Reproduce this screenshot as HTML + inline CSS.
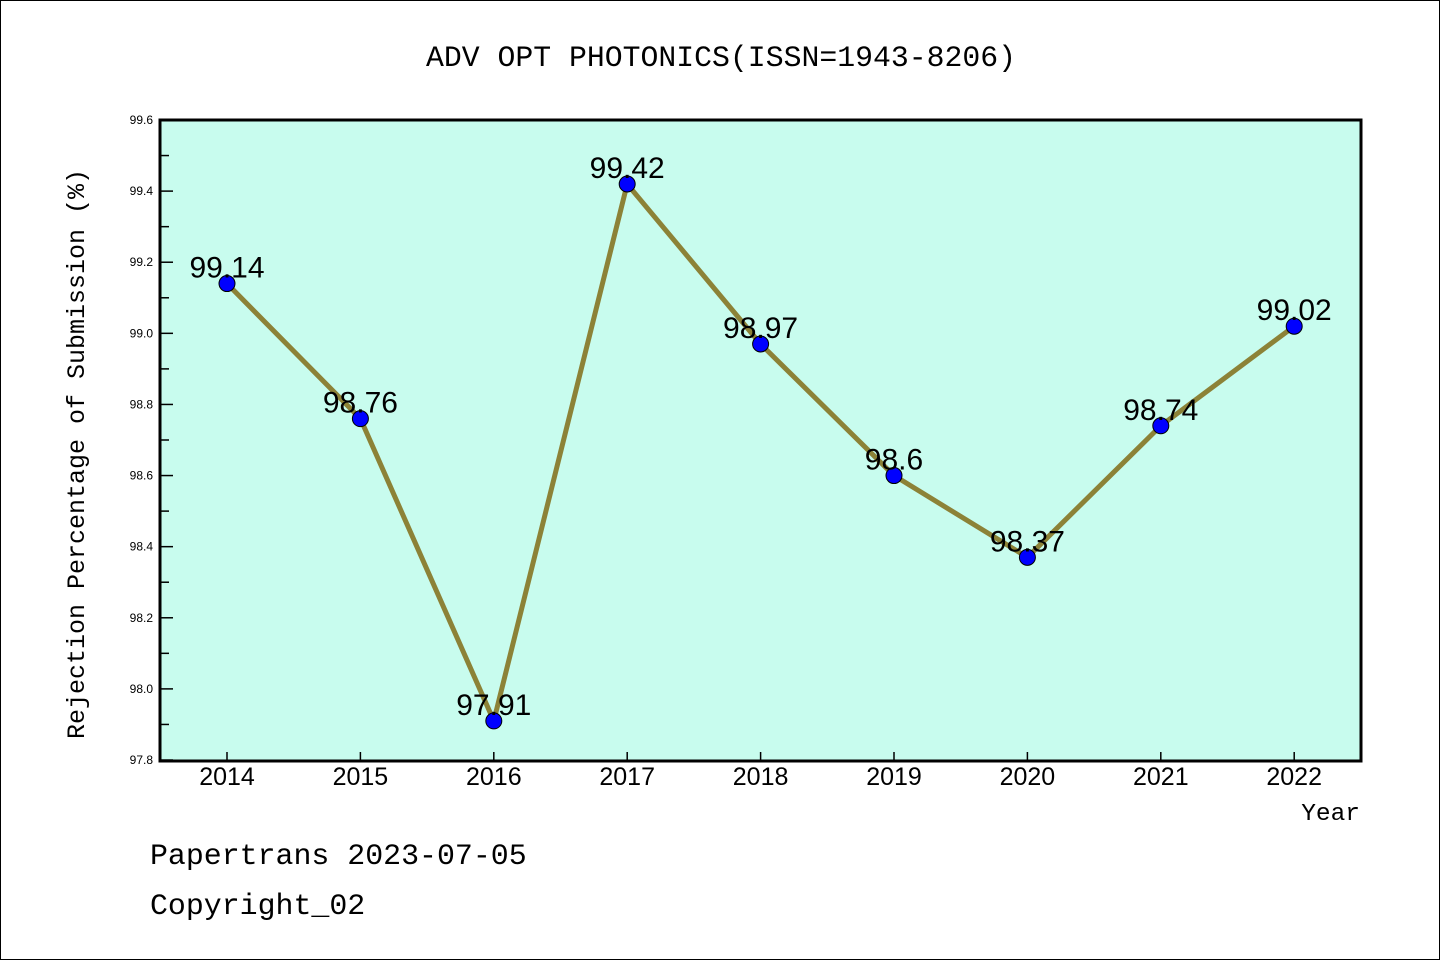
<!DOCTYPE html>
<html><head><meta charset="utf-8"><style>
html,body{margin:0;padding:0;background:#fff;}
svg{display:block;}
text{font-family:"Liberation Sans","WenQuanYi Zen Hei",sans-serif;}
.mono{font-family:"Liberation Mono","WenQuanYi Zen Hei",monospace;}
</style></head><body>
<svg id="chart" width="1440" height="960" xmlns="http://www.w3.org/2000/svg">
<rect x="0.5" y="0.5" width="1439" height="959" fill="#fff" stroke="#000" stroke-width="1"/>
<text class="mono" x="721" y="66" font-size="29.8" text-anchor="middle">ADV OPT PHOTONICS(ISSN=1943-8206)</text>
<rect x="160" y="120" width="1201" height="641" fill="#c8fcee"/>
<g id="yaxis"></g>
<g id="xaxis"></g>
<g id="series"></g>
<rect x="160" y="120" width="1201" height="641" fill="none" stroke="#000" stroke-width="3"/>
<text class="mono" x="84" y="454" font-size="25" text-anchor="middle" transform="rotate(-90 84 454)">Rejection Percentage of Submission (%)</text>
<text class="mono" x="1360" y="820" font-size="24.5" text-anchor="end">Year</text>
<text class="mono" x="150" y="864" font-size="29.9">Papertrans 2023-07-05</text>
<text class="mono" x="150" y="914" font-size="29.9">Copyright_02</text>
</svg>
<script>
const years = ["2014","2015","2016","2017","2018","2019","2020","2021","2022"];
const values = [99.14,98.76,97.91,99.42,98.97,98.6,98.37,98.74,99.02];
const valueLabels = ["99.14","98.76","97.91","99.42","98.97","98.6","98.37","98.74","99.02"];
const yTicks = ["97.8","98.0","98.2","98.4","98.6","98.8","99.0","99.2","99.4","99.6"];
const yMin = 97.8, yMax = 99.6;
const NS = "http://www.w3.org/2000/svg";
function yScale(v){ return 760 - (v - yMin) / (yMax - yMin) * 640; }
function xScale(i){ return 227 + i * 133.4; }
function mk(tag, attrs, parent){ const e = document.createElementNS(NS, tag); for (const k in attrs) e.setAttribute(k, attrs[k]); parent.appendChild(e); return e; }
const ya = document.getElementById('yaxis');
yTicks.forEach(t => {
  const v = parseFloat(t), y = yScale(v);
  const l = mk('line', {x1:160, x2:173, y1:y, y2:y, stroke:'#000', 'stroke-width':1.5}, ya);
  
  
  const tx = mk('text', {x:153, y:y+4, 'font-size':12, 'text-anchor':'end'}, ya);
  tx.textContent = t;
  
  
  if (v < yMax - 0.01) {
    const ym = yScale(v + 0.1);
    const m = mk('line', {x1:160, x2:169, y1:ym, y2:ym, stroke:'#000', 'stroke-width':1.5}, ya);
    
    
  }
});
const xa = document.getElementById('xaxis');
years.forEach((yr, i) => {
  const x = xScale(i);
  const l = mk('line', {x1:x, x2:x, y1:761, y2:752, stroke:'#000', 'stroke-width':1.5}, xa);
  
  
  const tx = mk('text', {x:x, y:785, 'font-size':25, 'text-anchor':'middle'}, xa);
  tx.textContent = yr;
  
  
});
const sg = document.getElementById('series');
const pts = values.map((v, i) => xScale(i) + ',' + yScale(v)).join(' ');
const pl = mk('polyline', {points:pts, fill:'none', stroke:'#8c8237', 'stroke-width':5, 'stroke-linejoin':'round'}, sg);


values.forEach((v, i) => {
  const x = xScale(i), y = yScale(v);
  const c = mk('circle', {cx:x, cy:y, r:8, fill:'#0000ff', stroke:'#000', 'stroke-width':1}, sg);
  
  
  const tx = mk('text', {x:x, y:y-6, 'font-size':30, 'text-anchor':'middle'}, sg);
  tx.textContent = valueLabels[i];
  
  
});
</script>
</body></html>
